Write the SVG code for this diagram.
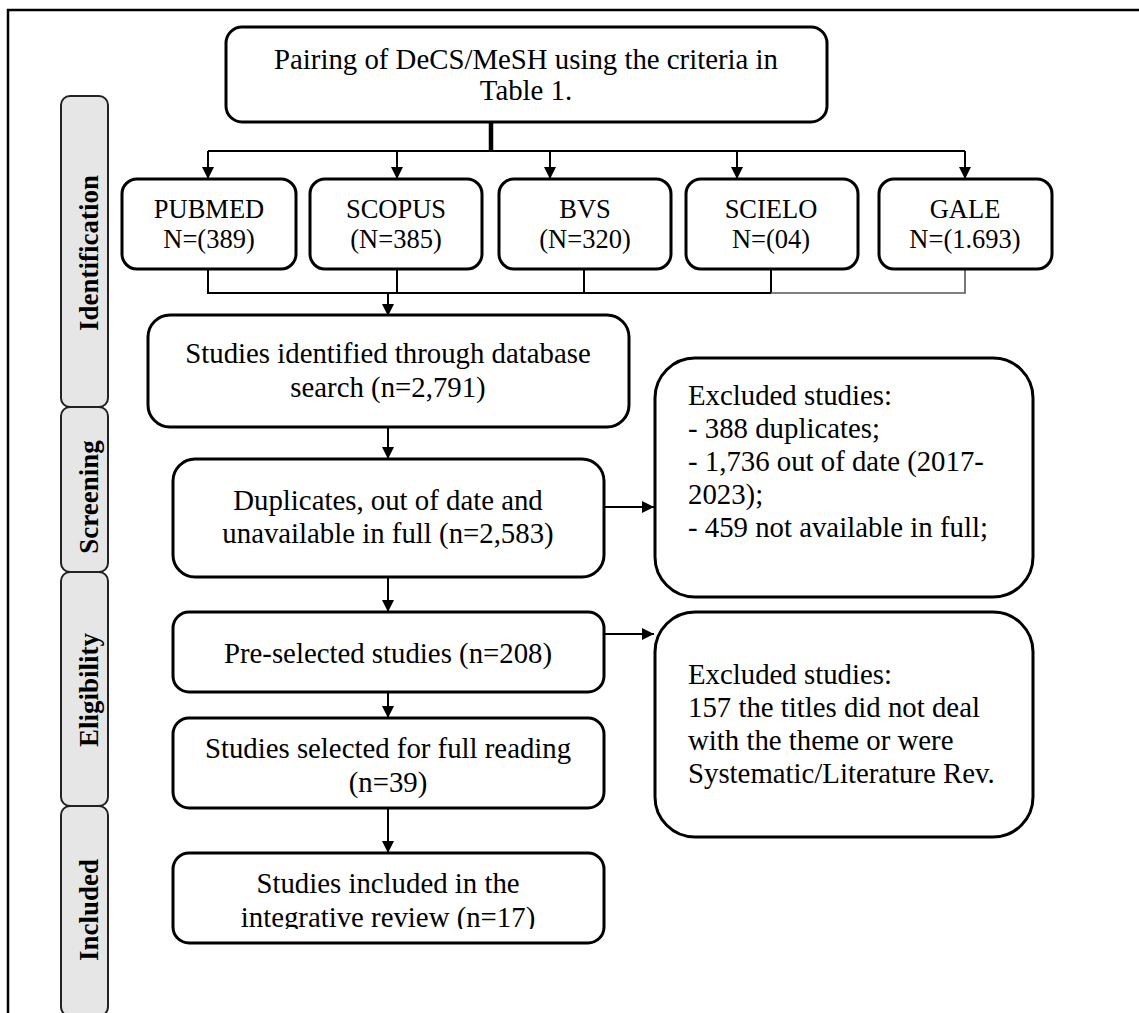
<svg xmlns="http://www.w3.org/2000/svg" width="1139" height="1013" viewBox="0 0 1139 1013">
<style>
.box{fill:#fff;stroke:#000;stroke-width:3}
.tab{fill:#e6e6e6;stroke:#222;stroke-width:2}
.t{font-family:"Liberation Serif","Times New Roman",serif;fill:#000}
.m{font-size:28.8px;text-anchor:middle}
.d{font-size:26.5px;text-anchor:middle}
.x{font-size:28.8px}
.v{font-size:27px;font-weight:bold;text-anchor:middle}
.ln{fill:none;stroke:#000;stroke-width:2}
.lg{fill:none;stroke:#555;stroke-width:1.6}
</style>
<defs>
<marker id="ah" viewBox="0 0 10 10" refX="10" refY="5" markerWidth="12" markerHeight="12" markerUnits="userSpaceOnUse" orient="auto">
<path d="M0,0 L10,5 L0,10 z" fill="#000"/>
</marker>
<clipPath id="clipInc"><rect x="170" y="850" width="440" height="79"/></clipPath>
</defs>
<rect width="1139" height="1013" fill="#fff"/>
<g id="frame">
<path d="M8,1013 V10 H1139" fill="none" stroke="#000" stroke-width="2.5"/>
</g>
<g id="tabs">
<g id="tab-identification"><rect class="tab" x="61" y="96" width="47" height="311" rx="9"/><text class="t v" transform="translate(98,253) rotate(-90)">Identification</text></g>
<g id="tab-screening"><rect class="tab" x="61" y="407" width="47" height="165" rx="9"/><text class="t v" transform="translate(98,497) rotate(-90)">Screening</text></g>
<g id="tab-eligibility"><rect class="tab" x="61" y="572" width="47" height="234" rx="9"/><text class="t v" transform="translate(98,690) rotate(-90)">Eligibility</text></g>
<g id="tab-included"><rect class="tab" x="61" y="806" width="47" height="210" rx="9"/><text class="t v" transform="translate(98,910) rotate(-90)">Included</text></g>
</g>
<g id="connectors">
<path d="M491,122 V151" stroke="#000" stroke-width="4.5" fill="none"/>
<path class="ln" d="M208,151 H965"/>
<path class="ln" d="M208,151 V179" marker-end="url(#ah)"/>
<path class="ln" d="M397,151 V179" marker-end="url(#ah)"/>
<path class="ln" d="M550,151 V179" marker-end="url(#ah)"/>
<path class="ln" d="M737,151 V179" marker-end="url(#ah)"/>
<path class="ln" d="M965,151 V179" marker-end="url(#ah)"/>
<path class="ln" d="M208,269 V293 H771 M397,269 V293 M584,269 V293 M771,269 V293"/>
<path class="lg" d="M771,293 H965 V269"/>
<path class="ln" d="M388,293 V316" marker-end="url(#ah)"/>
<path class="ln" d="M388,427 V459" marker-end="url(#ah)"/>
<path class="ln" d="M388,577 V612" marker-end="url(#ah)"/>
<path class="ln" d="M388,692 V718" marker-end="url(#ah)"/>
<path class="ln" d="M388,808 V853" marker-end="url(#ah)"/>
<path class="ln" d="M604,507 H654" marker-end="url(#ah)"/>
<path class="ln" d="M604,634 H654" marker-end="url(#ah)"/>
</g>
<g id="pairing"><rect class="box" x="226" y="27" width="601" height="95" rx="16"/>
<text class="t m" x="526" y="69">Pairing of DeCS/MeSH using the criteria in</text>
<text class="t m" x="526" y="100">Table 1.</text></g>
<g id="pubmed"><rect class="box" x="122" y="179" width="174" height="90" rx="15"/>
<text class="t d" x="209" y="218">PUBMED</text><text class="t d" x="209" y="248">N=(389)</text></g>
<g id="scopus"><rect class="box" x="310" y="179" width="172" height="90" rx="15"/>
<text class="t d" x="396" y="218">SCOPUS</text><text class="t d" x="396" y="248">(N=385)</text></g>
<g id="bvs"><rect class="box" x="499" y="179" width="172" height="90" rx="15"/>
<text class="t d" x="585" y="218">BVS</text><text class="t d" x="585" y="248">(N=320)</text></g>
<g id="scielo"><rect class="box" x="686" y="179" width="172" height="90" rx="15"/>
<text class="t d" x="771" y="218">SCIELO</text><text class="t d" x="771" y="248">N=(04)</text></g>
<g id="gale"><rect class="box" x="879" y="179" width="173" height="90" rx="15"/>
<text class="t d" x="965" y="218">GALE</text><text class="t d" x="965" y="248">N=(1.693)</text></g>
<g id="identified"><rect class="box" x="148" y="315" width="481" height="112" rx="22"/>
<text class="t m" x="388" y="363">Studies identified through database</text>
<text class="t m" x="388" y="397">search (n=2,791)</text></g>
<g id="duplicates"><rect class="box" x="173" y="459" width="431" height="118" rx="22"/>
<text class="t m" x="388" y="510">Duplicates, out of date and</text>
<text class="t m" x="388" y="543">unavailable in full (n=2,583)</text></g>
<g id="excluded1"><rect class="box" x="655" y="358" width="378" height="239" rx="40"/>
<text class="t x" x="688" y="405">Excluded studies:</text>
<text class="t x" x="688" y="438">- 388 duplicates;</text>
<text class="t x" x="688" y="471">- 1,736 out of date (2017-</text>
<text class="t x" x="688" y="504">2023);</text>
<text class="t x" x="688" y="537">- 459 not available in full;</text></g>
<g id="preselected"><rect class="box" x="173" y="612" width="431" height="80" rx="16"/>
<text class="t m" x="388" y="663">Pre-selected studies (n=208)</text></g>
<g id="excluded2"><rect class="box" x="655" y="612" width="378" height="225" rx="40"/>
<text class="t x" x="688" y="684">Excluded studies:</text>
<text class="t x" x="688" y="717">157 the titles did not deal</text>
<text class="t x" x="688" y="750">with the theme or were</text>
<text class="t x" x="688" y="783">Systematic/Literature Rev.</text></g>
<g id="fullreading"><rect class="box" x="173" y="718" width="431" height="90" rx="16"/>
<text class="t m" x="388" y="758">Studies selected for full reading</text>
<text class="t m" x="388" y="792">(n=39)</text></g>
<g id="included"><rect class="box" x="173" y="853" width="431" height="90" rx="16"/>
<g clip-path="url(#clipInc)">
<text class="t m" x="388" y="893">Studies included in the</text>
<text class="t m" x="388" y="927">integrative review (n=17)</text></g></g>
</svg>
